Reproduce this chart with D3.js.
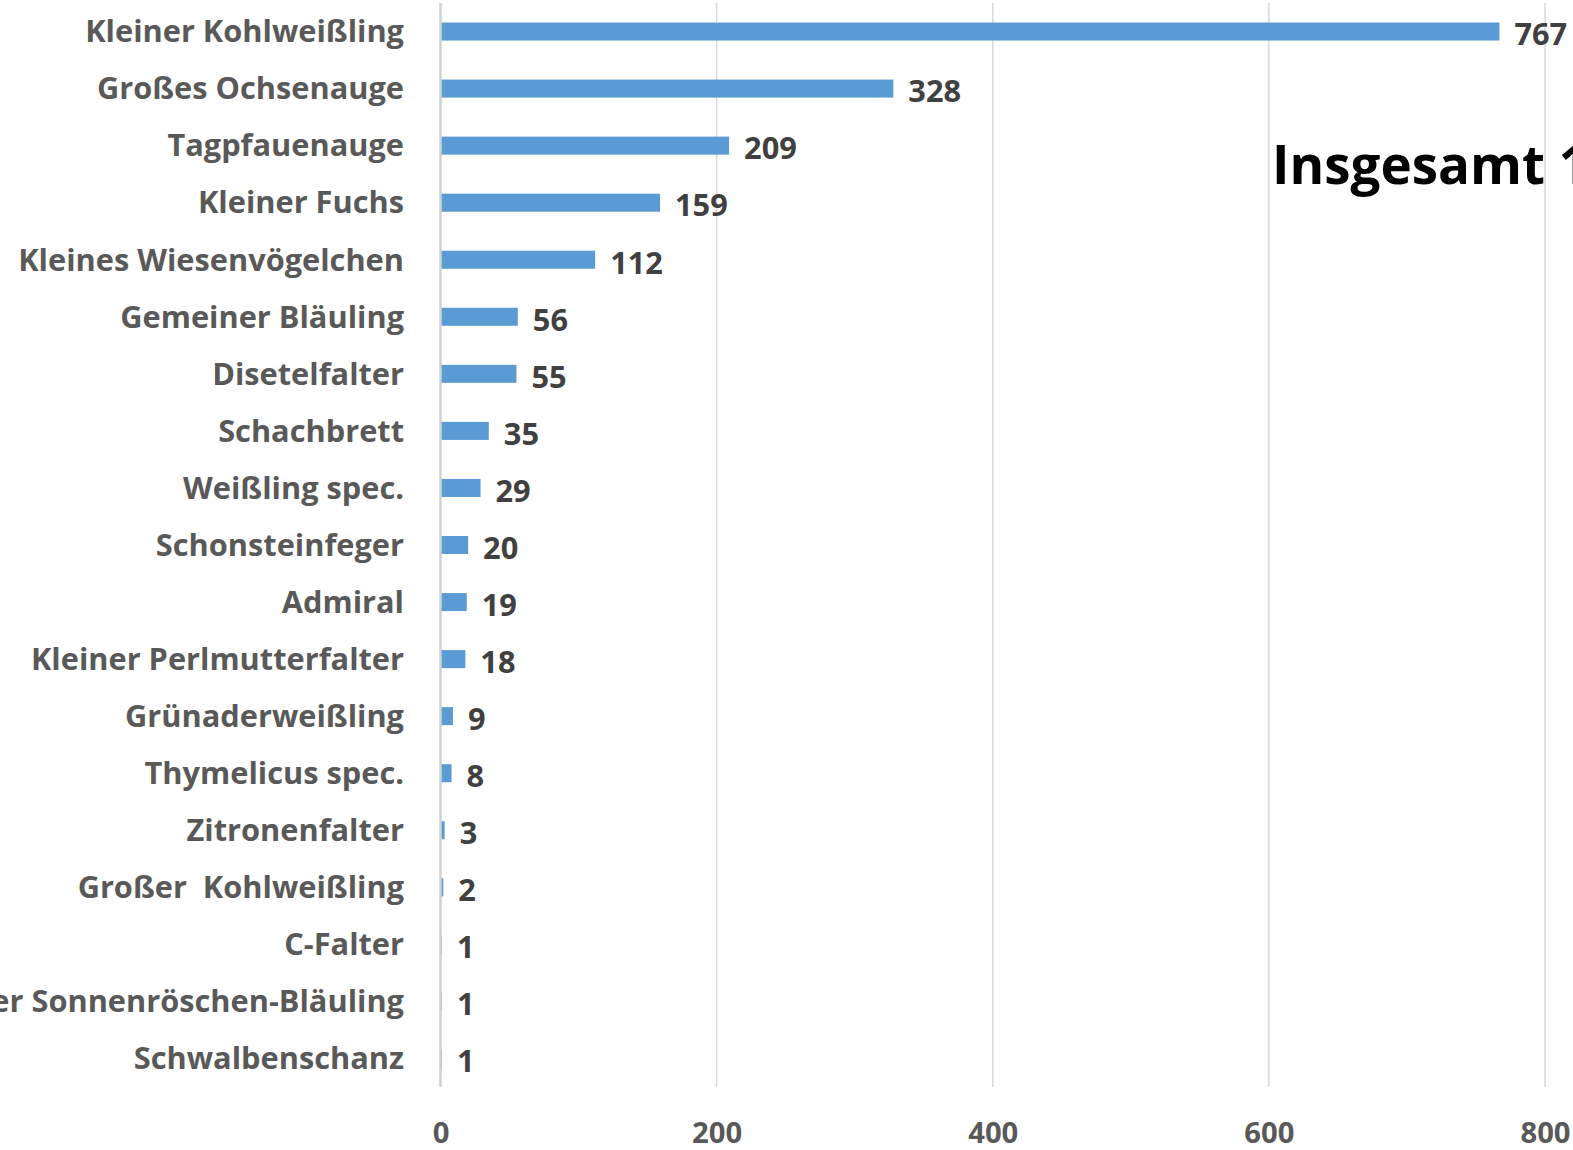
<!DOCTYPE html>
<html><head><meta charset="utf-8">
<script src="https://cdn.jsdelivr.net/npm/d3@7"></script>
<style>html,body{margin:0;padding:0;background:#fff;overflow:hidden}svg{display:block}text{white-space:pre}</style>
</head><body>
<script>
const categories = ["Kleiner Kohlweißling","Großes Ochsenauge","Tagpfauenauge","Kleiner Fuchs","Kleines Wiesenvögelchen","Gemeiner Bläuling","Disetelfalter","Schachbrett","Weißling spec.","Schonsteinfeger","Admiral","Kleiner Perlmutterfalter","Grünaderweißling","Thymelicus spec.","Zitronenfalter","Großer  Kohlweißling","C-Falter","Kleiner Sonnenröschen-Bläuling","Schwalbenschanz"];
const values = [767,328,209,159,112,56,55,35,29,20,19,18,9,8,3,2,1,1,1];
const ticks = [0,200,400,600,800];
const totalLabel = "Insgesamt 1832";

const W = 1573, H = 1150;
const font = "'Open Sans', sans-serif";
const svg = d3.select("body").append("svg").attr("width", W).attr("height", H);

const x = d3.scaleLinear().domain([0, 800]).range([440.5, 1545]);
const y = d3.scaleBand().domain(categories).range([3, 1087]).paddingInner(0.684).paddingOuter(0.342);

// fit font size so the first label spans the reference width
const probe = svg.append("text").attr("font-family", font).attr("font-weight", "bold")
  .attr("font-size", 30).text(categories[0]);
const w30 = probe.node().getComputedTextLength();
probe.remove();
const labelSize = 30 * 319 / w30;

// gridlines
svg.append("g").selectAll("line").data(ticks.slice(1)).join("line")
  .attr("x1", d => x(d)).attr("x2", d => x(d))
  .attr("y1", 3).attr("y2", 1087)
  .attr("stroke", "#d9d9d9").attr("stroke-width", 1.5);

// bars
svg.append("g").selectAll("rect").data(values).join("rect")
  .attr("x", x(0)).attr("y", (d, i) => y(categories[i]))
  .attr("width", d => x(d) - x(0)).attr("height", y.bandwidth())
  .attr("fill", "#5b9bd5");

// axis line
svg.append("line").attr("x1", x(0)).attr("x2", x(0)).attr("y1", 3).attr("y2", 1087)
  .attr("stroke", "#d0d0d0").attr("stroke-width", 2.5);

// category labels
svg.append("g").selectAll("text").data(categories).join("text")
  .attr("x", 404).attr("y", d => y(d) + y.bandwidth() / 2)
  .attr("dy", "0.35em").attr("text-anchor", "end")
  .attr("font-family", font).attr("font-weight", "bold").attr("font-size", labelSize)
  .attr("fill", "#595959").text(d => d);

// value labels
svg.append("g").selectAll("text").data(values).join("text")
  .attr("x", d => x(d) + 15).attr("y", (d, i) => y(categories[i]) + y.bandwidth() / 2 + 3)
  .attr("dy", "0.35em")
  .attr("font-family", font).attr("font-weight", "bold").attr("font-size", labelSize)
  .attr("fill", "#404040").text(d => d);

// x tick labels
const xAxis = d3.axisBottom(x).tickValues(ticks).tickSize(0).tickPadding(0);
const gx = svg.append("g").attr("transform", "translate(0,1122)").call(xAxis);
gx.select(".domain").remove();
gx.selectAll("text").attr("font-family", font).attr("font-weight", "bold")
  .attr("font-size", labelSize * 0.95).attr("fill", "#595959");

// total annotation
svg.append("text").attr("x", 1272).attr("y", 184)
  .attr("font-family", font).attr("font-weight", "bold").attr("font-size", labelSize * 1.72)
  .attr("fill", "#000").text(totalLabel);
</script>
</body></html>
